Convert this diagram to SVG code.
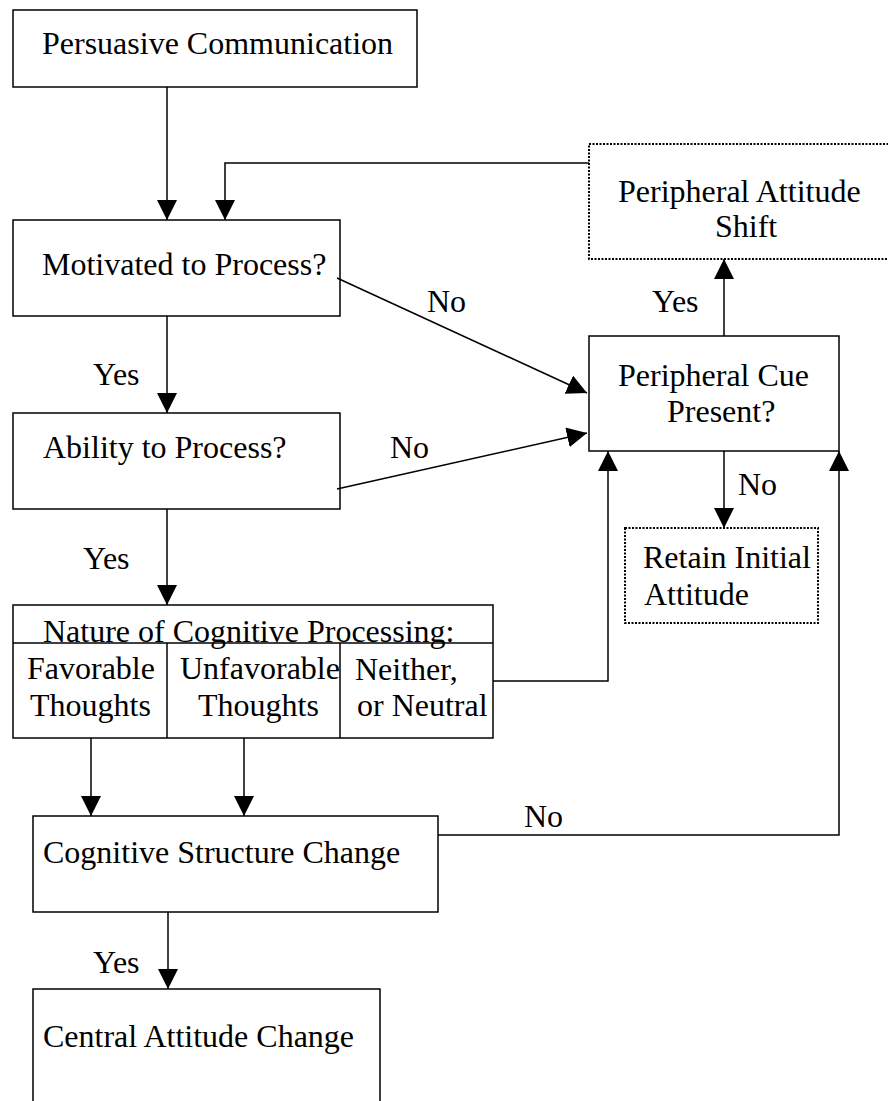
<svg xmlns="http://www.w3.org/2000/svg" width="888" height="1101" viewBox="0 0 888 1101">
<style>
.box{fill:#fff;stroke:#000;stroke-width:1.5}
.dot{fill:#fff;stroke:#000;stroke-width:2;stroke-dasharray:2 1.5}
.ln{fill:none;stroke:#000;stroke-width:1.5}
text{font-family:"Liberation Serif","Times New Roman",serif;font-size:32px;fill:#000}
</style>
<defs>
<marker id="ah" markerUnits="userSpaceOnUse" viewBox="0 0 20 20" refX="20" refY="10" markerWidth="20" markerHeight="20" orient="auto">
<path d="M0,0 L20,10 L0,20 Z" fill="#000"/>
</marker>
</defs>
<rect width="888" height="1101" fill="#fff"/>
<g id="n-persuasive"><rect class="box" x="13" y="10" width="404" height="77"/><text x="42" y="54">Persuasive Communication</text></g>
<g id="n-motivated"><rect class="box" x="13" y="220" width="327" height="96"/><text x="42" y="275">Motivated to Process?</text></g>
<g id="n-ability"><rect class="box" x="13" y="413" width="327" height="96"/><text x="43" y="458">Ability to Process?</text></g>
<g id="n-nature"><rect class="box" x="13" y="605" width="480" height="133"/>
<line class="ln" x1="13" y1="643" x2="493" y2="643"/>
<line class="ln" x1="167" y1="643" x2="167" y2="738"/>
<line class="ln" x1="340" y1="643" x2="340" y2="738"/>
<text x="43" y="642">Nature of Cognitive Processing:</text>
<text x="27" y="679">Favorable</text><text x="30" y="716">Thoughts</text>
<text x="180" y="679">Unfavorable</text><text x="198" y="716">Thoughts</text>
<text x="355" y="680">Neither,</text><text x="357" y="716">or Neutral</text></g>
<g id="n-cognitive"><rect class="box" x="33" y="816" width="405" height="96"/><text x="43" y="863">Cognitive Structure Change</text></g>
<g id="n-central"><rect class="box" x="33" y="989" width="347" height="120"/><text x="43" y="1047">Central Attitude Change</text></g>
<g id="n-pshift"><rect class="dot" x="589" y="144" width="305" height="115"/><text x="618" y="202">Peripheral Attitude</text><text x="715" y="237">Shift</text></g>
<g id="n-pcue"><rect class="box" x="589" y="336" width="250" height="115"/><text x="618" y="386">Peripheral Cue</text><text x="667" y="422">Present?</text></g>
<g id="n-retain"><rect class="dot" x="625" y="528" width="193" height="95"/><text x="643" y="568">Retain Initial</text><text x="644" y="605">Attitude</text></g>
<g id="connectors">
<path class="ln" d="M167,87 V220" marker-end="url(#ah)"/>
<path class="ln" d="M589,163 H225 V220" marker-end="url(#ah)"/>
<path class="ln" d="M337,278 L587,393" marker-end="url(#ah)"/>
<path class="ln" d="M167,316 V413" marker-end="url(#ah)"/>
<path class="ln" d="M337,489 L587,433" marker-end="url(#ah)"/>
<path class="ln" d="M167,509 V605" marker-end="url(#ah)"/>
<path class="ln" d="M493,681 H608 V451" marker-end="url(#ah)"/>
<path class="ln" d="M724,336 V259" marker-end="url(#ah)"/>
<path class="ln" d="M724,451 V528" marker-end="url(#ah)"/>
<path class="ln" d="M91,738 V816" marker-end="url(#ah)"/>
<path class="ln" d="M244,738 V816" marker-end="url(#ah)"/>
<path class="ln" d="M438,835 H839 V451" marker-end="url(#ah)"/>
<path class="ln" d="M168,912 V989" marker-end="url(#ah)"/>
<text x="427" y="312">No</text>
<text x="93" y="385">Yes</text>
<text x="390" y="458">No</text>
<text x="83" y="569">Yes</text>
<text x="652" y="312">Yes</text>
<text x="738" y="495">No</text>
<text x="524" y="827">No</text>
<text x="93" y="973">Yes</text>
</g>
</svg>
